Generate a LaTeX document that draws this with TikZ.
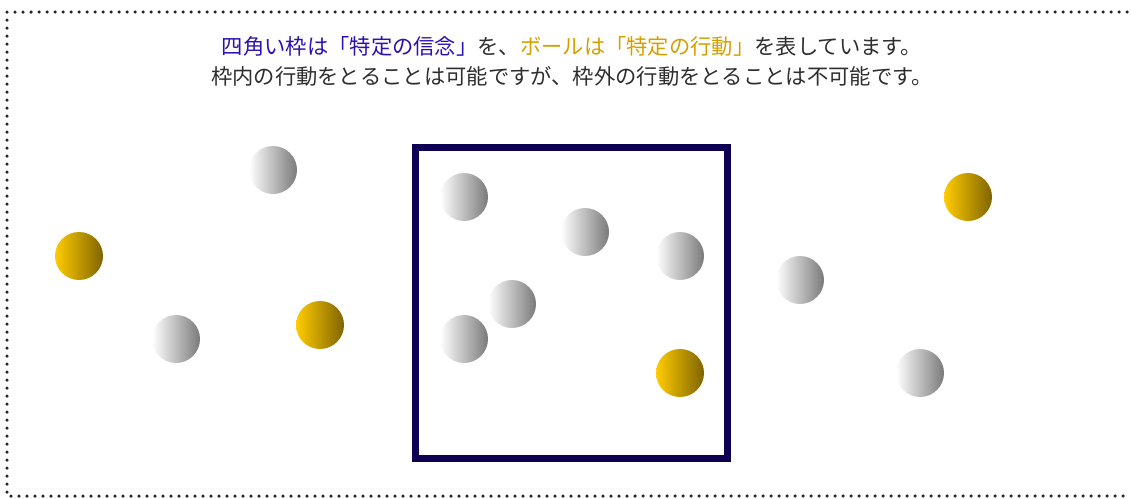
\documentclass[tikz,border=0pt]{standalone}
\usepackage{fontspec}
\newfontfamily\jpfont{Noto Sans CJK JP}
\definecolor{frameblue}{HTML}{0E0052}
\definecolor{txtblue}{HTML}{2A12B0}
\definecolor{txtgold}{HTML}{D4A000}
\definecolor{txtgray}{HTML}{2E2E2E}
\definecolor{goldL}{HTML}{FFCC00}
\definecolor{goldR}{HTML}{806400}
\definecolor{grayR}{HTML}{7A7A7A}
\tikzset{
  graybal/.style={left color=white, right color=grayR},
  goldbal/.style={left color=goldL, right color=goldR},
  txt/.style={font=\jpfont\fontsize{21.3}{24}\selectfont, text=txtgray, inner sep=0pt},
  border/.style={draw=black!85, line width=3.5pt, line cap=round, dash pattern=on 0pt off 8pt}
}
\begin{document}
\begin{tikzpicture}[x=1pt,y=-1pt]
\useasboundingbox (0,0) rectangle (1131,498);
\draw[border] (1127,12) -- (7,12) -- (7,496) -- (1127,496);
\node[txt] (l1) at (572,46) {\textcolor{txtblue}{四角い枠は「特定の信念」}を、\textcolor{txtgold}{ボールは「特定の行動」}を表しています。};
\node[txt] (l2) at (572,76) {枠内の行動をとることは可能ですが、枠外の行動をとることは不可能です。};
\draw[frameblue, line width=7pt] (415.5,147.5) rectangle (727.5,458.5);
\foreach \x/\y in {273/170,176/339,464/197,585/232,680/256,512/304,464/339,800/280,920/373}
  \shade[graybal] (\x,\y) circle (24);
\foreach \x/\y in {79/256,320/325,680/373,968/197}
  \shade[goldbal] (\x,\y) circle (24);
\end{tikzpicture}
\end{document}
